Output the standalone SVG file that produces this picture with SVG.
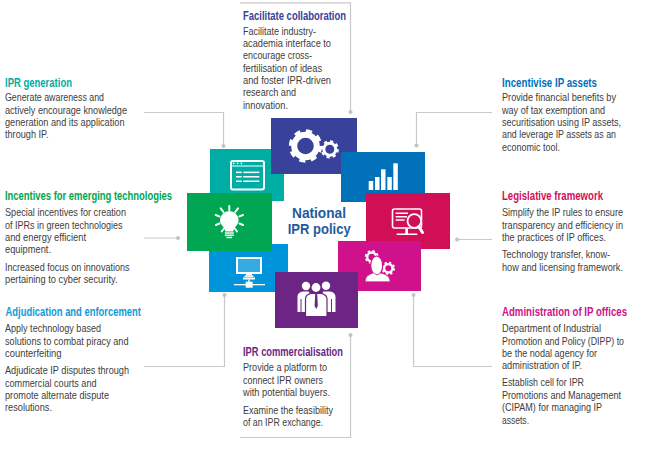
<svg xmlns="http://www.w3.org/2000/svg" width="671" height="468" viewBox="0 0 671 468">
<style>
text{font-family:"Liberation Sans Narrow","Liberation Sans",Arial,sans-serif}
.b{font-size:11.6px;fill:#3d3d3d}
.t{font-size:12.2px;font-weight:700}
.c{font-family:"Liberation Sans",Arial,sans-serif;font-size:14.2px;font-weight:700;fill:#1f5c9e}
.w{fill:#fff}
.n{fill:none;stroke:#fff}
.r{stroke:#fff;stroke-width:2;stroke-linecap:round}
#connectors path{fill:none;stroke:#c9c9c9;stroke-width:1.2}
#connectors circle{fill:#c2c2c2}
</style>
<rect width="671" height="468" fill="#fff"/>
<g id="connectors">
<path d="M144 112.500H223.500V146"/><circle cx="223.500" cy="146" r="2"/>
<path d="M240 2.800H350.500V112"/><circle cx="350.500" cy="112" r="2"/>
<path d="M492 112.500H416.500V145"/><circle cx="416.500" cy="145.500" r="2"/>
<path d="M144 238H178"/><circle cx="178" cy="238" r="2"/>
<path d="M492 239.500H457"/><circle cx="457" cy="239.500" r="2"/>
<path d="M144 366.500H224.500V295"/><circle cx="224.500" cy="295" r="2"/>
<path d="M492 366.500H413.500V295"/><circle cx="413.500" cy="295" r="2"/>
<path d="M240 437.500H350.500V335"/><circle cx="350.500" cy="335" r="2"/>
</g>

<g id="node-ipr-generation">
<rect x="210" y="149" width="74" height="52" fill="#00ada5"/>
<rect x="231" y="161" width="33" height="28.500" rx="2" class="n" stroke-width="2"/>
<path d="M231 166H264" class="n" stroke-width="1.200"/>
<g class="w"><circle cx="233.800" cy="163.300" r=".9"/><circle cx="237.600" cy="163.300" r=".9"/><circle cx="241.400" cy="163.300" r=".9"/>
<rect x="236" y="171.600" width="5.700" height="1.500"/><rect x="243.300" y="171.600" width="16" height="1.500"/>
<rect x="236" y="176" width="5.700" height="1.500"/><rect x="243.300" y="176" width="16" height="1.500"/>
<rect x="236" y="180.500" width="5.700" height="1.500"/><rect x="243.300" y="180.500" width="16" height="1.500"/></g>
<text class="t" fill="#00ada5" x="5" y="87" textLength="67" lengthAdjust="spacingAndGlyphs">IPR generation</text>
<text class="b" x="5" y="101" textLength="99" lengthAdjust="spacingAndGlyphs">Generate awareness and</text>
<text class="b" x="5" y="113.500" textLength="122" lengthAdjust="spacingAndGlyphs">actively encourage knowledge</text>
<text class="b" x="5" y="126" textLength="119.500" lengthAdjust="spacingAndGlyphs">generation and its application</text>
<text class="b" x="5" y="138" textLength="43.500" lengthAdjust="spacingAndGlyphs">through IP.</text>
</g>

<g id="node-facilitate-collaboration">
<rect x="271" y="118" width="86" height="56" fill="#39429b"/>
<circle cx="305.500" cy="146" r="11.300" class="n" stroke-width="6"/>
<circle cx="305.500" cy="146" r="15" class="n" stroke-width="3.400" stroke-dasharray="6.100 5.680"/>
<circle cx="329.800" cy="149.300" r="6" class="n" stroke-width="3"/>
<circle cx="329.800" cy="149.300" r="8" class="n" stroke-width="2.200" stroke-dasharray="3.200 3.080"/>
<text class="t" fill="#39429b" x="243" y="20" textLength="103" lengthAdjust="spacingAndGlyphs">Facilitate collaboration</text>
<text class="b" x="243" y="34.500" textLength="73" lengthAdjust="spacingAndGlyphs">Facilitate industry-</text>
<text class="b" x="243" y="46.500" textLength="88" lengthAdjust="spacingAndGlyphs">academia interface to</text>
<text class="b" x="243" y="59" textLength="69" lengthAdjust="spacingAndGlyphs">encourage cross-</text>
<text class="b" x="243" y="71.500" textLength="79" lengthAdjust="spacingAndGlyphs">fertilisation of ideas</text>
<text class="b" x="243" y="83.500" textLength="88" lengthAdjust="spacingAndGlyphs">and foster IPR-driven</text>
<text class="b" x="243" y="96" textLength="53" lengthAdjust="spacingAndGlyphs">research and</text>
<text class="b" x="243" y="108.500" textLength="45" lengthAdjust="spacingAndGlyphs">innovation.</text>
</g>

<g id="node-incentivise-ip-assets">
<rect x="341" y="152" width="84" height="50" fill="#0070b8"/>
<g class="w"><rect x="368.700" y="181" width="4.500" height="9"/><rect x="375" y="177" width="4.500" height="13"/><rect x="381" y="169.300" width="4.500" height="20.700"/><rect x="387.300" y="177" width="4.500" height="13"/><rect x="393.300" y="163.300" width="4.500" height="26.700"/></g>
<text class="t" fill="#0070b8" x="502" y="87" textLength="95" lengthAdjust="spacingAndGlyphs">Incentivise IP assets</text>
<text class="b" x="502" y="101" textLength="114" lengthAdjust="spacingAndGlyphs">Provide financial benefits by</text>
<text class="b" x="502" y="113.500" textLength="103" lengthAdjust="spacingAndGlyphs">way of tax exemption and</text>
<text class="b" x="502" y="126" textLength="119" lengthAdjust="spacingAndGlyphs">securitisation using IP assets,</text>
<text class="b" x="502" y="138" textLength="114" lengthAdjust="spacingAndGlyphs">and leverage IP assets as an</text>
<text class="b" x="502" y="150.500" textLength="58" lengthAdjust="spacingAndGlyphs">economic tool.</text>
</g>

<g id="node-legislative-framework">
<rect x="366" y="193" width="84" height="56" fill="#d10f56"/>
<rect x="392.500" y="209" width="29" height="19" rx="2" class="n" stroke-width="1.600"/>
<path d="M405.300 228.500H408V233.500H417.300V235H396.700V233.500H405.300Z" class="w"/>
<path d="M395.700 213.300H408M395.700 216.700H407M395.700 220H404.500" class="n" stroke-width="1.500"/>
<circle cx="414.300" cy="221" r="6.800" fill="#d10f56" stroke="#fff" stroke-width="1.800"/>
<path d="M418.800 226.500L422.500 232.500" class="n" stroke-width="3" stroke-linecap="round"/>
<text class="t" fill="#d10f56" x="502" y="200" textLength="101" lengthAdjust="spacingAndGlyphs">Legislative framework</text>
<text class="b" x="502" y="216" textLength="121" lengthAdjust="spacingAndGlyphs">Simplify the IP rules to ensure</text>
<text class="b" x="502" y="228.500" textLength="121" lengthAdjust="spacingAndGlyphs">transparency and efficiency in</text>
<text class="b" x="502" y="241" textLength="104" lengthAdjust="spacingAndGlyphs">the practices of IP offices.</text>
<text class="b" x="502" y="258" textLength="108" lengthAdjust="spacingAndGlyphs">Technology transfer, know-</text>
<text class="b" x="502" y="270.500" textLength="121" lengthAdjust="spacingAndGlyphs">how and licensing framework.</text>
</g>

<g id="node-administration-of-ip-offices">
<rect x="338" y="241" width="83" height="50" fill="#d0118c"/>
<circle cx="371.700" cy="257" r="4.500" class="n" stroke-width="2.400"/>
<circle cx="371.700" cy="257" r="6" class="n" stroke-width="2" stroke-dasharray="2.400 2.310"/>
<circle cx="388.300" cy="268.300" r="4.200" class="n" stroke-width="2.400"/>
<circle cx="388.300" cy="268.300" r="5.700" class="n" stroke-width="2" stroke-dasharray="2.300 2.180"/>
<ellipse cx="376.700" cy="265.500" rx="6" ry="9.500" fill="#fff" stroke="#d0118c" stroke-width="1.200"/>
<path d="M365.300 281.700C365.300 276 369 274.500 373.500 273L377 275L380.500 273C386 274.500 390 276 390 281.700Z" fill="#fff" stroke="#d0118c" stroke-width=".6"/>
<text class="t" fill="#d0118c" x="502" y="316" textLength="125" lengthAdjust="spacingAndGlyphs">Administration of IP offices</text>
<text class="b" x="502" y="332" textLength="99" lengthAdjust="spacingAndGlyphs">Department of Industrial</text>
<text class="b" x="502" y="344.500" textLength="122" lengthAdjust="spacingAndGlyphs">Promotion and Policy (DIPP) to</text>
<text class="b" x="502" y="357" textLength="95" lengthAdjust="spacingAndGlyphs">be the nodal agency for</text>
<text class="b" x="502" y="369" textLength="80" lengthAdjust="spacingAndGlyphs">administration of IP.</text>
<text class="b" x="502" y="386" textLength="82" lengthAdjust="spacingAndGlyphs">Establish cell for IPR</text>
<text class="b" x="502" y="398.500" textLength="119" lengthAdjust="spacingAndGlyphs">Promotions and Management</text>
<text class="b" x="502" y="411" textLength="100" lengthAdjust="spacingAndGlyphs">(CIPAM) for managing IP</text>
<text class="b" x="502" y="423.500" textLength="27" lengthAdjust="spacingAndGlyphs">assets.</text>
</g>

<g id="node-adjudication-and-enforcement">
<rect x="209" y="244" width="79" height="48" fill="#0095da"/>
<rect x="237" y="258" width="24" height="15" fill="#35abe2" stroke="#fff" stroke-width="2"/>
<g class="w"><rect x="246" y="273" width="6" height="2.500"/><rect x="244.500" y="275.500" width="9" height="1.500"/><rect x="243" y="277.500" width="12" height="2"/><rect x="248.300" y="279.500" width="1.400" height="3"/><rect x="234" y="284" width="31" height="1.300"/><rect x="245.700" y="281.700" width="7" height="6"/></g>
<text class="t" fill="#0f9bd7" x="5.500" y="316" textLength="135.500" lengthAdjust="spacingAndGlyphs">Adjudication and enforcement</text>
<text class="b" x="5" y="332" textLength="96" lengthAdjust="spacingAndGlyphs">Apply technology based</text>
<text class="b" x="5" y="344.500" textLength="123.500" lengthAdjust="spacingAndGlyphs">solutions to combat piracy and</text>
<text class="b" x="5" y="356.500" textLength="56.500" lengthAdjust="spacingAndGlyphs">counterfeiting</text>
<text class="b" x="5" y="374" textLength="124" lengthAdjust="spacingAndGlyphs">Adjudicate IP disputes through</text>
<text class="b" x="5" y="386.500" textLength="91.500" lengthAdjust="spacingAndGlyphs">commercial courts and</text>
<text class="b" x="5" y="399" textLength="104" lengthAdjust="spacingAndGlyphs">promote alternate dispute</text>
<text class="b" x="5" y="411" textLength="47" lengthAdjust="spacingAndGlyphs">resolutions.</text>
</g>

<g id="node-incentives-for-emerging-technologies">
<rect x="187" y="193" width="85" height="58" fill="#00a651"/>
<path d="M225.300 231.500C225 227 220 225.500 220 220.300A9.300 9.300 0 0 1 238.600 220.300C238.600 225.500 233.600 227 233.300 231.500Z" class="w"/>
<g class="w"><rect x="224.800" y="232.300" width="9" height="1.400"/><rect x="224.800" y="234.500" width="9" height="1.400"/><rect x="226.500" y="236.700" width="5.600" height="1.500"/></g>
<path class="r" d="M229.300 206V210M220.700 208.300L223.500 212M238 208.300L235.200 212M215.700 215L219.300 216.400M243 215L239.400 216.400M216 225L219.500 223.500M243 225L239.500 223.500M221.700 231.500L224 228.500M237 231.500L234.800 228.500"/>
<text class="t" fill="#00a651" x="5" y="200" textLength="167" lengthAdjust="spacingAndGlyphs">Incentives for emerging technologies</text>
<text class="b" x="5" y="216" textLength="121" lengthAdjust="spacingAndGlyphs">Special incentives for creation</text>
<text class="b" x="5" y="228.500" textLength="117.500" lengthAdjust="spacingAndGlyphs">of IPRs in green technologies</text>
<text class="b" x="5" y="240.500" textLength="81" lengthAdjust="spacingAndGlyphs">and energy efficient</text>
<text class="b" x="5" y="253" textLength="46" lengthAdjust="spacingAndGlyphs">equipment.</text>
<text class="b" x="5" y="270.500" textLength="124.500" lengthAdjust="spacingAndGlyphs">Increased focus on innovations</text>
<text class="b" x="5" y="283" textLength="112.500" lengthAdjust="spacingAndGlyphs">pertaining to cyber security.</text>
</g>

<g id="node-ipr-commercialisation">
<rect x="275" y="272" width="83" height="56" fill="#6c2585"/>
<g class="w"><circle cx="306" cy="286" r="4.200"/><circle cx="326" cy="285.700" r="4.200"/><circle cx="316" cy="287.500" r="4.400"/></g>
<path d="M297.500 312V297C297.500 293.500 300 292 303 291.500L309 291.500L313 312ZM335.500 312V297C335.500 293.500 333 292 330 291.500L323 291.500L319 312Z" class="w"/>
<path d="M301 299V312M331.500 299V312" stroke="#6c2585" stroke-width="1" fill="none"/>
<path d="M305.500 316.700V299C305.500 295.500 308 294 311 293.300L321 293.300C324 294 327 295.500 327 299V316.700Z" fill="#fff" stroke="#6c2585" stroke-width="1.200"/>
<path d="M315.200 294H317.200L317.800 306L316.200 309L314.600 306Z" fill="#6c2585"/>
<text class="t" fill="#6c2585" x="243" y="356" textLength="100" lengthAdjust="spacingAndGlyphs">IPR commercialisation</text>
<text class="b" x="243" y="371" textLength="84" lengthAdjust="spacingAndGlyphs">Provide a platform to</text>
<text class="b" x="243" y="383.500" textLength="80" lengthAdjust="spacingAndGlyphs">connect IPR owners</text>
<text class="b" x="243" y="396" textLength="87" lengthAdjust="spacingAndGlyphs">with potential buyers.</text>
<text class="b" x="243" y="413.500" textLength="90" lengthAdjust="spacingAndGlyphs">Examine the feasibility</text>
<text class="b" x="243" y="426" textLength="80" lengthAdjust="spacingAndGlyphs">of an IPR exchange.</text>
</g>

<g id="node-national-ipr-policy">
<text class="c" x="292" y="218" textLength="54" lengthAdjust="spacingAndGlyphs">National</text>
<text class="c" x="287.700" y="234" textLength="63" lengthAdjust="spacingAndGlyphs">IPR policy</text>
</g>
</svg>
